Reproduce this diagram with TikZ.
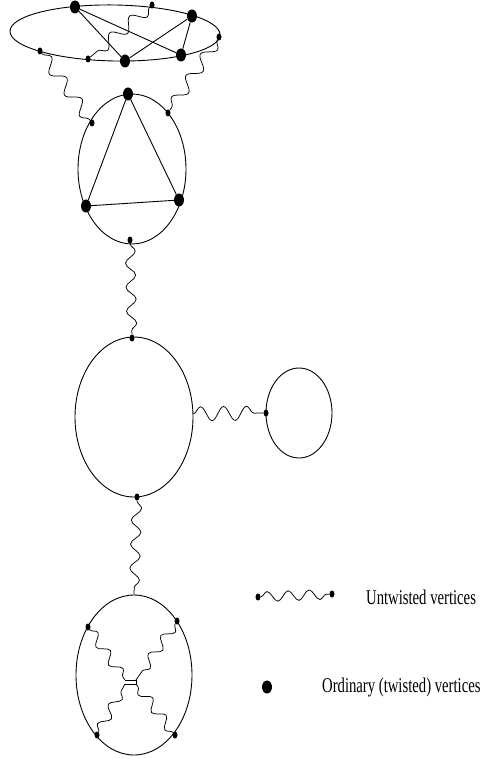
\documentclass[tikz,border=0pt]{standalone}
\usepackage{fontspec}
\setmainfont{Liberation Serif}
\usetikzlibrary{shapes.geometric,decorations.pathmorphing}
\tikzset{
  ring/.style={draw, ellipse, line width=0.9pt, inner sep=0pt},
  bigdot/.style={ellipse, fill=black, inner sep=0pt, minimum width=10pt, minimum height=13pt},
  smalldot/.style={ellipse, fill=black, inner sep=0pt, minimum width=5pt, minimum height=7pt},
  edge/.style={line width=0.9pt},
  wave/.style={line width=0.75pt, decorate, decoration={snake, segment length=#1, amplitude=5pt}},
  wave/.default=24pt,
  legtext/.style={anchor=west, inner sep=0pt, xscale=0.7, font=\fontsize{21}{25}\selectfont}
}
\begin{document}
\begin{tikzpicture}[x=1pt,y=-1pt]
\useasboundingbox (0,0) rectangle (479,759);
% top ellipse
\node[ring, minimum width=210pt, minimum height=56pt, rotate=-1] (E1) at (115,33) {};
\node[bigdot] (A) at (75,7) {};
\node[bigdot] (B) at (192,16) {};
\node[bigdot] (C) at (181,55) {};
\node[bigdot] (D) at (125,61) {};
\node[smalldot] (a) at (152,5) {};
\node[smalldot] (b) at (40,51) {};
\node[smalldot] (c) at (88,59) {};
\node[smalldot] (d) at (219,37) {};
\draw[edge] (A) -- (D);
\draw[edge] (A) -- (C);
\draw[edge] (B) -- (D);
\draw[edge] (B) -- (C);
\draw[wave=26pt, decoration={amplitude=6pt}] (a) -- (c);
% triangle circle
\node[ring, minimum width=108pt, minimum height=150pt] (E2) at (132,169) {};
\node[bigdot] (T) at (128,94) {};
\node[bigdot] (L) at (86,206) {};
\node[bigdot] (R) at (179,200) {};
\node[smalldot] (s1) at (92,123) {};
\node[smalldot] (s2) at (168,113) {};
\node[smalldot] (s3) at (130,240) {};
\draw[edge] (T) -- (L) -- (R) -- (T);
\draw[wave=26pt, decoration={amplitude=6pt}] (b) -- (s1);
\draw[wave=26pt, decoration={amplitude=6pt}] (d) -- (s2);
% middle ellipse
\node[ring, minimum width=118pt, minimum height=160pt] (E3) at (134,417) {};
\node[smalldot] (m1) at (132,338) {};
\node[smalldot] (m2) at (137,497) {};
\draw[wave] (s3) -- (m1);
% small circle
\node[ring, minimum width=66pt, minimum height=90pt] (E4) at (299,413) {};
\node[smalldot] (n) at (266,413) {};
\draw[wave=23pt, decoration={amplitude=7pt}] (E3.3) -- (n);
% bottom ellipse
\node[ring, minimum width=116pt, minimum height=160pt] (E5) at (134,675) {};
\node[smalldot] (p1) at (88,627) {};
\node[smalldot] (p2) at (177,621) {};
\node[smalldot] (p3) at (97,735) {};
\node[smalldot] (p4) at (175,735) {};
\draw[wave] (m2) -- (E5.north);
\coordinate (c1) at (125,680);
\coordinate (c2) at (136,680);
\coordinate (c3) at (125,684);
\coordinate (c4) at (136,684);
\draw[wave=22pt, decoration={amplitude=5pt}] (p1) -- (c1);
\draw[wave=22pt, decoration={amplitude=5pt}] (p2) -- (c2);
\draw[wave=22pt, decoration={amplitude=5pt}] (p3) -- (c3);
\draw[wave=22pt, decoration={amplitude=5pt}] (p4) -- (c4);
\draw[line width=0.75pt] (c1) -- (c2) -- (c4) -- (c3);
% legend
\node[smalldot] (l1) at (258,597) {};
\node[smalldot] (l2) at (332,594) {};
\draw[wave=21pt] (l1) -- (l2);
\node[legtext] (t1) at (366,597) {Untwisted vertices};
\node[bigdot] (o) at (267,687) {};
\node[legtext] (t2) at (322,687) {Ordinary (twisted) vertices};
\end{tikzpicture}
\end{document}
